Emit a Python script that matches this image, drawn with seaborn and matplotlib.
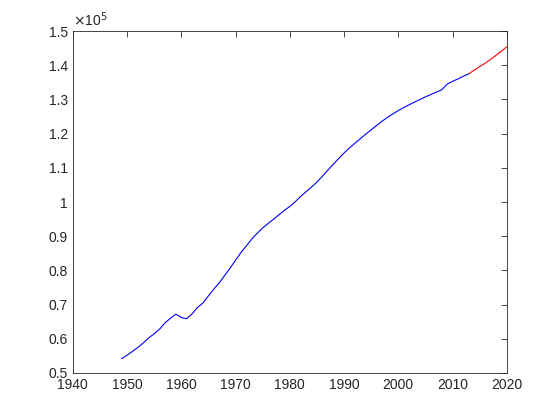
import matplotlib
matplotlib.use('Agg')
import matplotlib.pyplot as plt
import numpy as np
import pandas as pd
import seaborn as sns
from matplotlib.ticker import FuncFormatter

# population, observed (blue) and forecast (red)
years = list(range(1949, 2014))
pop = [54167, 55196, 56300, 57482, 58796, 60266, 61465, 62828, 64653, 65994,
       67207, 66207, 65859, 67295, 69172, 70499, 72538, 74542, 76368, 78534,
       80671, 82992, 85229, 87177, 89211, 90859, 92420, 93717, 94974, 96259,
       97542, 98705, 100072, 101654, 103008, 104357, 105851, 107507, 109300, 111026,
       112704, 114333, 115823, 117171, 118517, 119850, 121121, 122389, 123626, 124761,
       125786, 126743, 127627, 128453, 129227, 129988, 130756, 131448, 132129, 132802,
       134500, 135300, 136000, 136800, 137500]

pred_years = list(range(2013, 2021))
pred = [137500, 138600, 139600, 140600, 141700, 142900, 144100, 145400]

sns.set_style('white')
plt.rcParams['font.family'] = ['Liberation Sans', 'DejaVu Sans']

fig = plt.figure(figsize=(5.6, 4.2), dpi=100)
ax = fig.add_axes([0.13, 0.112, 0.775, 0.814])

sns.lineplot(x=years, y=pop, color='blue', linewidth=0.8, ax=ax)
sns.lineplot(x=pred_years, y=pred, color='red', linewidth=0.8, ax=ax)

ax.set_xlim(1940, 2020)
ax.set_ylim(50000, 150000)
ax.set_xticks(np.arange(1940, 2021, 10))
ax.set_yticks(np.arange(50000, 150001, 10000))
ax.yaxis.set_major_formatter(FuncFormatter(lambda v, p: f"{v / 1e5:g}"))

grey = '#262626'
for s in ax.spines.values():
    s.set_color('#262626')
    s.set_linewidth(0.6)
ax.tick_params(direction='in', length=4, width=0.6, colors=grey,
               labelsize=10, top=True, right=True)
ax.text(0.0, 1.005, r'$\times$10$^5$', transform=ax.transAxes,
        fontsize=10, color=grey, ha='left', va='bottom')

fig.savefig('out.png', dpi=100)
